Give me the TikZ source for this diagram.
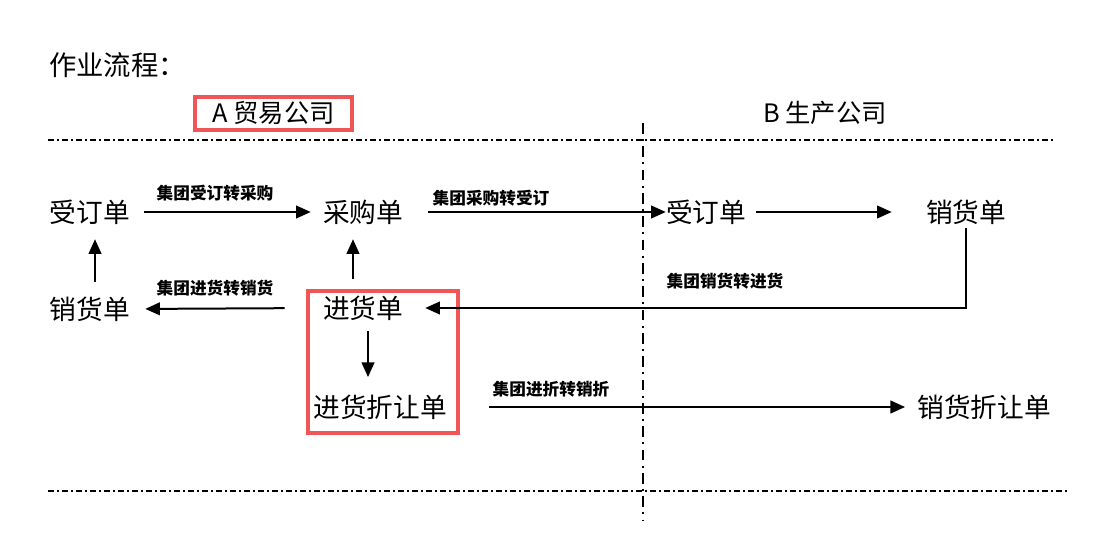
\documentclass[tikz,border=0pt]{standalone}
\usepackage{fontspec}
\setmainfont{Noto Sans CJK SC}
\usetikzlibrary{arrows.meta}
\definecolor{boxred}{HTML}{F05656}
\begin{document}
\begin{tikzpicture}[x=0.75pt,y=-0.75pt,
  doc/.style={font=\fontsize{20}{24}\selectfont, inner sep=0pt},
  lbl/.style={font=\bfseries\fontsize{12.5}{15}\selectfont, inner sep=0pt},
  arr/.style={line width=1.5pt, -{Triangle[length=11pt,width=9.5pt]}},
  sepline/.style={line width=1.1pt, dash pattern=on 4.5pt off 2.25pt on 1.5pt off 2.25pt},
  vsep/.style={line width=1.1pt, dash pattern=on 8pt off 4pt on 1.5pt off 4pt},
  redbox/.style={draw=boxred, line width=2.6pt}]
\useasboundingbox (0,0) rectangle (1093,555);

% title and headers
\node[font=\fontsize{20.5}{24}\selectfont, inner sep=0pt, anchor=west] (title) at (49,65) {作业流程：};
\node[redbox, font=\fontsize{19}{22}\selectfont, minimum width=117.75pt, minimum height=24.75pt, inner sep=0pt] (ta) at (273.5,113.5) {A 贸易公司};
\node[font=\fontsize{19}{22}\selectfont, inner sep=0pt] (tb) at (825,113) {B 生产公司};

% separators
\coordinate (h1l) at (48,140); \coordinate (h1r) at (1055,140);
\coordinate (h2l) at (48,491); \coordinate (h2r) at (1068,491);
\coordinate (vt) at (643,123); \coordinate (vb) at (643,520);
\draw[sepline] (h1l) -- (h1r);
\draw[sepline] (h2l) -- (h2r);
\draw[vsep] (vt) -- (vb);

% documents
\node[doc] (qa) at (90,212) {受订单};
\node[doc] (cg) at (363,212) {采购单};
\node[doc] (qb) at (706,212) {受订单};
\node[doc] (xb) at (966,212) {销货单};
\node[doc] (xa) at (90,309) {销货单};
\node[doc] (jh) at (363,308) {进货单};
\node[doc] (zr) at (380,407) {进货折让单};
\node[doc] (xz) at (984,407) {销货折让单};

% red box around 进货单 / 进货折让单
\draw[redbox] (308,291) rectangle (458,433);

% connectors
\draw[arr, shorten <=10.5pt, shorten >=9pt] (qa.east) -- (cg.west);
\draw[arr, shorten <=18.75pt] (cg.east) -- (qb.west);
\draw[arr, shorten <=7.5pt, shorten >=25.5pt] (qb.east) -- (xb.west);
\draw[arr, shorten <=2.25pt, shorten >=16.5pt] (xb.south) |- (jh.east);
\draw[arr, shorten <=28.5pt, shorten >=11.25pt] (jh.west) -- (xa.east);
\draw[arr, shorten <=11pt, shorten >=11pt] ([xshift=3.75pt]xa.north) -- ([xshift=3.75pt]qa.south);
\draw[arr, shorten <=12pt, shorten >=11pt] ([xshift=-7.5pt]jh.north) -- ([xshift=-7.5pt]cg.south);
\draw[arr, shorten <=8pt, shorten >=13pt] ([xshift=3.75pt]jh.south) -- ([xshift=3.75pt]jh.south |- zr.north);
\draw[arr, shorten <=31.5pt, shorten >=9pt] (zr.east) -- (xz.west);

% labels
\node[lbl] (l1) at (215,193) {集团受订转采购};
\node[lbl] (l2) at (491,198) {集团采购转受订};
\node[lbl] (l3) at (725,281) {集团销货转进货};
\node[lbl] (l4) at (215,288) {集团进货转销货};
\node[lbl] (l5) at (551,389) {集团进折转销折};
\end{tikzpicture}
\end{document}
